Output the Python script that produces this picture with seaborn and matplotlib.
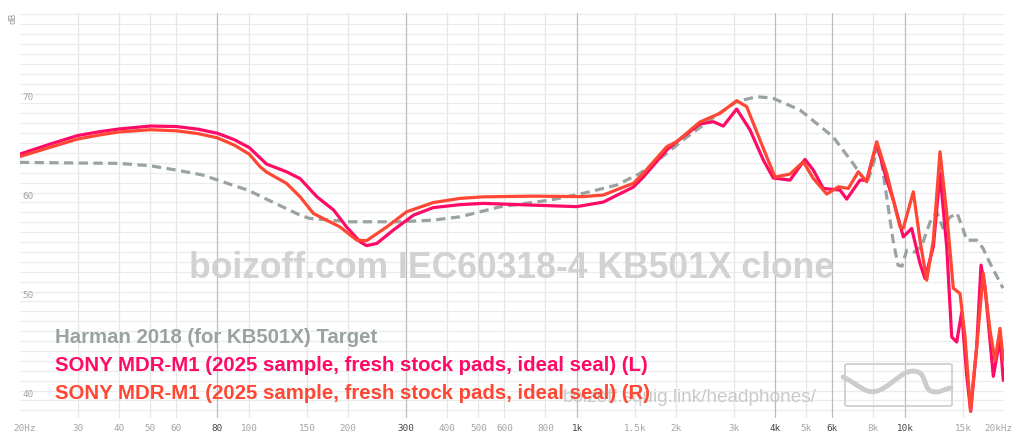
import pandas as pd
import matplotlib
matplotlib.use("Agg")
import matplotlib.pyplot as plt
import seaborn as sns
from matplotlib.patches import FancyBboxPatch, PathPatch
from matplotlib.path import Path
from matplotlib.ticker import NullLocator


TARGET_NAME = "Harman 2018 (for KB501X) Target"
L_NAME = "SONY MDR-M1 (2025 sample, fresh stock pads, ideal seal) (L)"
R_NAME = "SONY MDR-M1 (2025 sample, fresh stock pads, ideal seal) (R)"

TARGET_FREQ = [20, 30, 40, 50, 60, 72, 80, 100, 108, 143, 153, 203, 288, 364, 439, 582, 826,
               1042, 1320, 1555, 1875, 2102, 2663, 3064, 3527, 3954, 4780, 6026, 6934, 7633,
               7922, 8206, 8440, 8786, 9184, 9512, 9782, 10110, 10716, 11254, 11904, 12480,
               13044, 13702, 14390, 14906, 15404, 16522, 17270, 18140, 19876]
TARGET_DB = [64.05, 63.99, 63.95, 63.71, 63.27, 62.78, 62.27, 61.2, 60.64, 58.72, 58.39, 58.05,
             58.05, 58.22, 58.55, 59.56, 60.24, 60.92, 61.76, 62.94, 64.96, 66.31, 68.84, 70.18,
             70.69, 70.53, 69.34, 66.64, 63.95, 61.96, 63.4, 65.3, 64.49, 60.54, 56.19, 53.67,
             53.56, 55.18, 54.98, 55.69, 58.01, 59.03, 57.41, 58.52, 58.92, 57.61, 56.19, 56.19,
             55.38, 53.87, 51.34]

L_FREQ = [20, 25, 30, 35, 40, 50, 60, 70, 80, 90, 100, 113, 130, 143, 161, 181, 198, 218, 228,
          245, 275, 317, 364, 439, 517, 735, 997, 1201, 1483, 1591, 1875, 2011, 2368, 2600, 2790,
          3064, 3366, 3694, 3963, 4456, 4950, 5248, 5628, 6330, 6634, 7282, 7633, 8190, 8786,
          9202, 9872, 10470, 11098, 11494, 12186, 12772, 13386, 13866, 14360, 14872, 15404,
          15840, 16522, 17030, 17514, 18568, 19460, 19918]
L_DB = [64.89, 65.95, 66.76, 67.15, 67.42, 67.72, 67.67, 67.4, 66.99, 66.35, 65.55, 63.88,
        63.10, 62.41, 60.57, 59.23, 57.54, 56.02, 55.64, 55.86, 57.21, 58.72, 59.48, 59.78,
        59.91, 59.73, 59.58, 60.04, 61.55, 62.57, 65.30, 66.14, 67.93, 68.16, 67.72, 69.44,
        67.32, 64.29, 62.47, 62.26, 64.36, 63.27, 61.42, 61.25, 60.34, 62.26, 62.26, 65.97,
        62.26, 60.24, 56.53, 57.38, 53.84, 52.32, 55.52, 62.94, 55.52, 46.41, 45.91, 48.91,
        42.54, 38.90, 45.40, 53.67, 51.47, 42.44, 46.28, 42.03]

R_FREQ = [20, 25, 30, 35, 40, 50, 60, 70, 80, 90, 100, 108, 113, 130, 143, 157, 172, 189, 213,
          228, 263, 302, 364, 439, 517, 735, 1044, 1201, 1351, 1483, 1591, 1875, 2011, 2368,
          2726, 3064, 3288, 3609, 4010, 4456, 4892, 5248, 5766, 6254, 6710, 7196, 7633, 8190,
          8786, 9646, 9872, 10590, 11098, 11632, 12186, 12772, 13386, 14020, 14698, 15222,
          15820, 16522, 17306, 18140, 18792, 19460, 19918]
R_DB = [64.64, 65.62, 66.41, 66.82, 67.12, 67.35, 67.24, 66.95, 66.53, 65.8, 64.89, 63.61,
        63.07, 61.93, 60.57, 58.89, 58.22, 57.54, 56.19, 56.14, 57.54, 59.06, 59.99, 60.41,
        60.57, 60.64, 60.59, 60.75, 61.42, 61.93, 62.94, 65.63, 66.14, 68.13, 69.01, 70.28,
        69.68, 66.31, 62.57, 62.87, 64.11, 62.43, 60.85, 61.58, 61.42, 63.10, 62.09, 66.14,
        62.94, 57.54, 57.41, 61.08, 56.19, 52.15, 56.19, 65.12, 58.89, 51.34, 50.80, 46.41,
        39.00, 45.40, 52.83, 47.09, 44.06, 47.29, 44.06]

X_TICKS = [20, 30, 40, 50, 60, 80, 100, 150, 200, 300, 400, 500, 600, 800, 1000, 1500, 2000,
           3000, 4000, 5000, 6000, 8000, 10000, 15000, 20000]
X_LABELS = ["20Hz", "30", "40", "50", "60", "80", "100", "150", "200", "300", "400", "500",
            "600", "800", "1k", "1.5k", "2k", "3k", "4k", "5k", "6k", "8k", "10k", "15k", "20kHz"]
X_STRONG = [80, 300, 1000, 4000, 6000, 10000]
Y_LABELS = [40, 50, 60, 70]

TARGET_GREY = "#99a39f"
L_PINK = "#ff0a66"
R_ORANGE = "#ff4733"
MONO = "DejaVu Sans Mono"

W, H = 1024, 443


def fx(px):
    return px / W


def fy(py):
    return 1 - py / H


df = pd.concat([
    pd.DataFrame({"freq": TARGET_FREQ, "db": TARGET_DB, "curve": TARGET_NAME}),
    pd.DataFrame({"freq": L_FREQ, "db": L_DB, "curve": L_NAME}),
    pd.DataFrame({"freq": R_FREQ, "db": R_DB, "curve": R_NAME}),
])

sns.set_style("white")
plt.rcParams["font.family"] = ["Liberation Sans", "DejaVu Sans"]

fig = plt.figure(figsize=(W / 100, H / 100), dpi=100)
ax = fig.add_axes([fx(19.9), fy(418), fx(984), 405 / H])

# grid
for v in range(39, 80):
    ax.axhline(v, color="#ececec", lw=0.9, zorder=0)
for f in X_TICKS[1:-1]:
    ax.axvline(f, color="#bdbdbd" if f in X_STRONG else "#e6e6e6", lw=0.9, zorder=0)

sns.lineplot(
    data=df, x="freq", y="db", hue="curve", style="curve",
    hue_order=[TARGET_NAME, L_NAME, R_NAME],
    style_order=[TARGET_NAME, L_NAME, R_NAME],
    palette={TARGET_NAME: TARGET_GREY, L_NAME: L_PINK, R_NAME: R_ORANGE},
    dashes={TARGET_NAME: (2.9, 1.7), L_NAME: "", R_NAME: ""},
    estimator=None, sort=False, lw=2.3, legend=False, ax=ax,
    solid_joinstyle="round", solid_capstyle="round",
)

ax.set_xscale("log")
ax.set_xlim(20, 20000)
ax.set_ylim(38.23, 79.14)
ax.xaxis.set_minor_locator(NullLocator())
ax.set_xticks(X_TICKS[1:-1], X_LABELS[1:-1])
ax.set_yticks([])
ax.set_xlabel("")
ax.set_ylabel("")
for s in ax.spines.values():
    s.set_visible(False)
ax.tick_params(axis="x", length=0, pad=4, labelsize=6.7, labelcolor="#a3a3a3")
for lbl, f in zip(ax.get_xticklabels(), X_TICKS[1:-1]):
    lbl.set_fontfamily(MONO)
    if f in X_STRONG:
        lbl.set_color("#444444")

for f, txt, dx in [(X_TICKS[0], X_LABELS[0], 3.6), (X_TICKS[-1], X_LABELS[-1], -3.9)]:
    ax.annotate(txt, xy=(f, 0), xycoords=("data", "axes fraction"), xytext=(dx, -4),
                textcoords="offset points", ha="center", va="top", fontsize=6.7,
                family=MONO, color="#a3a3a3")

for v in Y_LABELS:
    ax.annotate(str(v), xy=(0, v), xycoords=("axes fraction", "data"), xytext=(2, 1),
                textcoords="offset points", ha="left", va="bottom", fontsize=6.7,
                family=MONO, color="#a3a3a3")

fig.text(fx(13.3), fy(18.3), "dB", rotation=90, ha="center", va="center",
         fontsize=6.7, family=MONO, color="#999999")

# watermarks
fig.text(fx(511.5), fy(278), "boizoff.com IEC60318-4 KB501X clone", ha="center",
         va="baseline", fontsize=25.6, fontweight="bold", color="#d2d2d2", zorder=1)
fig.text(fx(563), fy(401.7), "boizoff.squig.link/headphones/", ha="left",
         va="baseline", fontsize=13.7, color="#c4c4c4", alpha=0.9, zorder=1)

box = FancyBboxPatch((fx(845), fy(406)), fx(107), 42 / H, transform=fig.transFigure,
                     boxstyle="round,pad=0,rounding_size=0.003", fill=False,
                     ec="#cfcfcf", lw=1.3, zorder=1)
fig.add_artist(box)
pts = [(843, 377), (860, 385), (866, 396), (880, 390), (895, 383), (905, 367), (918, 372),
       (928, 376), (922, 392), (936, 392), (942, 392), (946, 388), (951, 388)]
codes = [Path.MOVETO] + [Path.CURVE4] * 12
squiggle = PathPatch(Path([(fx(a), fy(b)) for a, b in pts], codes), transform=fig.transFigure,
                     fill=False, ec="#cccccc", lw=3.5, capstyle="round", zorder=1)
fig.add_artist(squiggle)

# legend text
for name, col, base in [(TARGET_NAME, TARGET_GREY, 342.7), (L_NAME, L_PINK, 370.9),
                        (R_NAME, R_ORANGE, 399.3)]:
    fig.text(fx(55), fy(base), name, ha="left", va="baseline", fontsize=14.7,
             fontweight="bold", color=col, zorder=3)

fig.savefig("out.png", dpi=100)
